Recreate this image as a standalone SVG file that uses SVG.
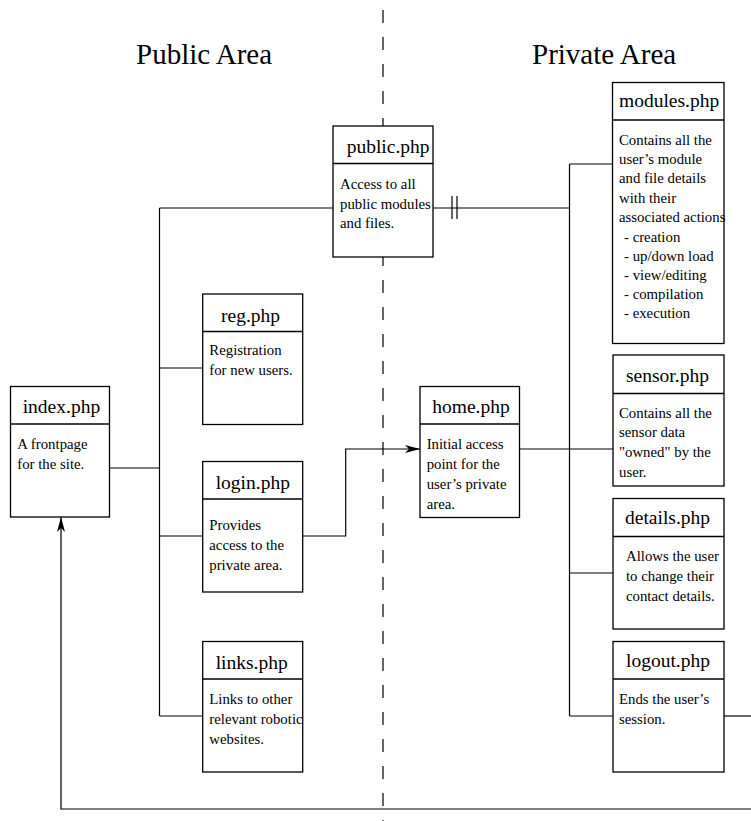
<svg xmlns="http://www.w3.org/2000/svg" width="751" height="821" viewBox="0 0 751 821">
<style>
.box{fill:#fff;stroke:#000;stroke-width:1.3}
.div{stroke:#000;stroke-width:1.3}
.ln{fill:none;stroke:#000;stroke-width:1.2}
.h{font-family:"Liberation Serif","Times New Roman",serif;font-size:19.5px;fill:#000}
.b{font-family:"Liberation Serif","Times New Roman",serif;font-size:14.8px;fill:#000}
.t{font-family:"Liberation Serif","Times New Roman",serif;font-size:29px;fill:#000}
</style>
<defs>
<marker id="arr" markerWidth="16" markerHeight="10" refX="15" refY="5" orient="auto" markerUnits="userSpaceOnUse">
<path d="M0,1 L15,5 L0,9 L4,5 z" fill="#000"/>
</marker>
</defs>
<rect width="751" height="821" fill="#fff"/>
<text class="t" x="136" y="64">Public Area</text>
<text class="t" x="532" y="64">Private Area</text>
<line x1="383" y1="10" x2="383" y2="821" stroke="#000" stroke-width="1.2" stroke-dasharray="13 14"/>
<g id="connectors">
<path class="ln" d="M109.5,468 H159.5"/>
<path class="ln" d="M159.5,208 V716"/>
<path class="ln" d="M159.5,208 H333"/>
<path class="ln" d="M159.5,368 H202.7"/>
<path class="ln" d="M159.5,536 H202.7"/>
<path class="ln" d="M159.5,716 H202.7"/>
<path class="ln" d="M433,208 H569.5"/>
<path class="ln" d="M452,196 V219 M457,196 V219"/>
<path class="ln" d="M302.7,536 H345.7 V449 H420" marker-end="url(#arr)"/>
<path class="ln" d="M519.5,449 H613"/>
<path class="ln" d="M569.5,164 V716"/>
<path class="ln" d="M569.5,164 H612.5"/>
<path class="ln" d="M569.5,573 H613"/>
<path class="ln" d="M569.5,716 H613"/>
<path class="ln" d="M724,716 H751"/>
<path class="ln" d="M751,809 H61 V517" marker-end="url(#arr)"/>
</g>
<g id="index">
<rect class="box" x="10.5" y="386.5" width="99" height="130.5"/>
<line class="div" x1="10.5" y1="424" x2="109.5" y2="424"/>
<text class="h" x="22.7" y="413">index.php</text>
<text class="b" x="17.3" y="449">A frontpage</text>
<text class="b" x="17.3" y="469">for the site.</text>
</g>
<g id="public">
<rect class="box" x="333" y="126" width="100" height="131"/>
<line class="div" x1="333" y1="163.5" x2="433" y2="163.5"/>
<text class="h" x="346.7" y="153.3">public.php</text>
<text class="b" x="340" y="189">Access to all</text>
<text class="b" x="340" y="208.7">public modules</text>
<text class="b" x="340" y="228.4">and files.</text>
</g>
<g id="reg">
<rect class="box" x="202.7" y="294" width="100" height="130.5"/>
<line class="div" x1="202.7" y1="331.5" x2="302.7" y2="331.5"/>
<text class="h" x="221" y="321.5">reg.php</text>
<text class="b" x="209.3" y="355">Registration</text>
<text class="b" x="209.3" y="375">for new users.</text>
</g>
<g id="login">
<rect class="box" x="202.7" y="461.5" width="100" height="130.5"/>
<line class="div" x1="202.7" y1="499" x2="302.7" y2="499"/>
<text class="h" x="215.7" y="489.3">login.php</text>
<text class="b" x="209.3" y="530">Provides</text>
<text class="b" x="209.3" y="550">access to the</text>
<text class="b" x="209.3" y="570">private area.</text>
</g>
<g id="links">
<rect class="box" x="202.7" y="641.5" width="100" height="130.5"/>
<line class="div" x1="202.7" y1="679" x2="302.7" y2="679"/>
<text class="h" x="215.7" y="669.3">links.php</text>
<text class="b" x="209.3" y="704">Links to other</text>
<text class="b" x="209.3" y="724">relevant robotic</text>
<text class="b" x="209.3" y="744">websites.</text>
</g>
<g id="home">
<rect class="box" x="420" y="386.5" width="99.5" height="131"/>
<line class="div" x1="420" y1="424" x2="519.5" y2="424"/>
<text class="h" x="432.3" y="412.7">home.php</text>
<text class="b" x="426.7" y="448.5">Initial access</text>
<text class="b" x="426.7" y="468.5">point for the</text>
<text class="b" x="426.7" y="488.5">user’s private</text>
<text class="b" x="426.7" y="508.5">area.</text>
</g>
<g id="modules">
<rect class="box" x="612.5" y="82.5" width="111.5" height="261"/>
<line class="div" x1="612.5" y1="120" x2="724" y2="120"/>
<text class="h" x="619" y="107.3">modules.php</text>
<text class="b" x="619" y="145">Contains all the</text>
<text class="b" x="619" y="164.2">user’s module</text>
<text class="b" x="619" y="183.4">and file details</text>
<text class="b" x="619" y="202.6">with their</text>
<text class="b" x="619" y="222">associated actions</text>
<text class="b" x="624" y="241.5">- creation</text>
<text class="b" x="624" y="260.5">- up/down load</text>
<text class="b" x="624" y="279.5">- view/editing</text>
<text class="b" x="624" y="298.6">- compilation</text>
<text class="b" x="624" y="317.8">- execution</text>
</g>
<g id="sensor">
<rect class="box" x="613" y="355" width="111" height="131"/>
<line class="div" x1="613" y1="393.5" x2="724" y2="393.5"/>
<text class="h" x="626" y="382.3">sensor.php</text>
<text class="b" x="619" y="417.5">Contains all the</text>
<text class="b" x="619" y="437.2">sensor data</text>
<text class="b" x="619" y="456.9">"owned" by the</text>
<text class="b" x="619" y="476.6">user.</text>
</g>
<g id="details">
<rect class="box" x="613" y="498.5" width="111" height="130.5"/>
<line class="div" x1="613" y1="536.5" x2="724" y2="536.5"/>
<text class="h" x="625" y="524.3">details.php</text>
<text class="b" x="626" y="561">Allows the user</text>
<text class="b" x="626" y="581">to change their</text>
<text class="b" x="626" y="601">contact details.</text>
</g>
<g id="logout">
<rect class="box" x="613" y="641.5" width="111" height="130.5"/>
<line class="div" x1="613" y1="679" x2="724" y2="679"/>
<text class="h" x="626" y="667.3">logout.php</text>
<text class="b" x="619" y="704">Ends the user’s</text>
<text class="b" x="619" y="724">session.</text>
</g>
</svg>
